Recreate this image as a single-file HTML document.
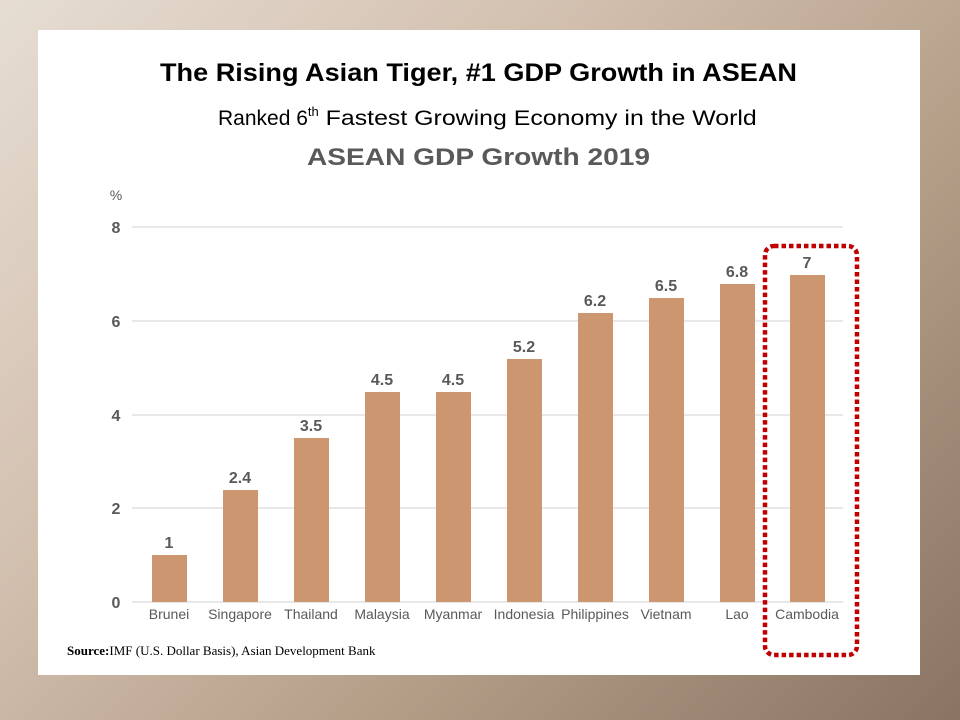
<!DOCTYPE html>
<html><head><meta charset="utf-8"><style>
html,body{margin:0;padding:0}
body{width:960px;height:720px;position:relative;overflow:hidden;
background:linear-gradient(135deg,#e6ddd3 0%,#d2bfae 35%,#b39e88 65%,#8a7363 100%);
font-family:"Liberation Sans",sans-serif}
.panel{position:absolute;left:38px;top:30px;width:882px;height:645px;background:#fff}
</style></head><body>
<div class="panel"></div>
<svg width="960" height="720" style="position:absolute;left:0;top:0">
<text x="160" y="81" font-size="25" font-weight="bold" fill="#000" textLength="637" lengthAdjust="spacingAndGlyphs">The Rising Asian Tiger, #1 GDP Growth in ASEAN</text>
<text x="218" y="125" font-size="21" fill="#000">Ranked 6<tspan font-size="13" dy="-9">th</tspan><tspan dy="9" textLength="438" lengthAdjust="spacingAndGlyphs"> Fastest Growing Economy in the World</tspan></text>
<text x="307" y="165" font-size="24" font-weight="bold" fill="#595959" textLength="343" lengthAdjust="spacingAndGlyphs">ASEAN GDP Growth 2019</text>
<text x="116" y="200" text-anchor="middle" font-size="14" fill="#595959">%</text>
<g stroke="#d9d9d9" stroke-width="1.2">
<line x1="132" x2="843" y1="227" y2="227"/><line x1="132" x2="843" y1="321" y2="321"/>
<line x1="132" x2="843" y1="415" y2="415"/><line x1="132" x2="843" y1="508" y2="508"/>
<line x1="132" x2="843" y1="602" y2="602"/></g>
<g font-size="16" fill="#595959" text-anchor="middle" font-weight="bold">
<text x="116" y="233">8</text><text x="116" y="327">6</text><text x="116" y="421">4</text><text x="116" y="514">2</text><text x="116" y="608">0</text></g>
<g fill="#cc9770">
<rect x="152" y="555" width="35" height="47"/>
<rect x="223" y="490" width="35" height="112"/>
<rect x="294" y="438" width="35" height="164"/>
<rect x="365" y="392" width="35" height="210"/>
<rect x="436" y="392" width="35" height="210"/>
<rect x="507" y="359" width="35" height="243"/>
<rect x="578" y="313" width="35" height="289"/>
<rect x="649" y="298" width="35" height="304"/>
<rect x="720" y="284" width="35" height="318"/>
<rect x="790" y="275" width="35" height="327"/></g>
<g font-size="16" fill="#595959" text-anchor="middle" font-weight="bold">
<text x="169" y="548">1</text><text x="240" y="483">2.4</text><text x="311" y="431">3.5</text>
<text x="382" y="385">4.5</text><text x="453" y="385">4.5</text><text x="524" y="352">5.2</text>
<text x="595" y="306">6.2</text><text x="666" y="291">6.5</text><text x="737" y="277">6.8</text>
<text x="807" y="268">7</text></g>
<g font-size="14" fill="#595959" text-anchor="middle">
<text x="169" y="619">Brunei</text><text x="240" y="619">Singapore</text><text x="311" y="619">Thailand</text>
<text x="382" y="619">Malaysia</text><text x="453" y="619">Myanmar</text><text x="524" y="619">Indonesia</text>
<text x="595" y="619">Philippines</text><text x="666" y="619">Vietnam</text><text x="737" y="619">Lao</text>
<text x="807" y="619">Cambodia</text></g>
<rect x="765" y="246" width="92" height="409" rx="9" fill="none" stroke="#c00000" stroke-width="4.5" stroke-dasharray="4.5 3"/>
<text x="67" y="655" font-size="13" font-family="Liberation Serif,serif" fill="#000"><tspan font-weight="bold">Source:</tspan>IMF (U.S. Dollar Basis), Asian Development Bank</text>
</svg>
</body></html>
